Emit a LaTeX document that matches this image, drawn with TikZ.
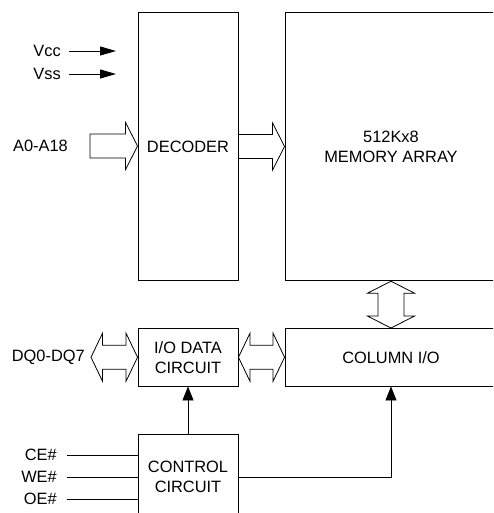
\documentclass[tikz,border=0pt]{standalone}
\usepackage{fontspec}
\setmainfont{Liberation Sans}
\usetikzlibrary{arrows.meta,calc}
\tikzset{
  blk/.style={draw=black, line width=0.9pt, rectangle, inner sep=0pt, align=center,
    font=\fontsize{16.4}{20}\selectfont},
  lbl/.style={inner sep=0pt, font=\fontsize{16.4}{20}\selectfont},
  fat/.style={draw=black, line width=0.8pt, fill=white, line join=miter},
  sig/.style={draw=black, line width=0.9pt},
  sigarrow/.style={sig, -{Triangle[length=14pt,width=11pt]}},
  pwrarrow/.style={sig, -{Triangle[length=16pt,width=9pt]}},
}
\newcommand\fatR[2]{% single head, left to right
  \path let \p1=(#1), \p2=(#2) in [fat]
    (\x1,\y1+12pt) -- (\x2-12pt,\y1+12pt) -- (\x2-12pt,\y1+23.5pt) -- (\x2,\y1)
    -- (\x2-12pt,\y1-23.5pt) -- (\x2-12pt,\y1-12pt) -- (\x1,\y1-12pt) -- cycle;}
\newcommand\fatLR[2]{% double head, horizontal
  \path let \p1=(#1), \p2=(#2) in [fat]
    (\x1,\y1) -- (\x1+11.5pt,\y1+24pt) -- (\x1+11.5pt,\y1+12pt) -- (\x2-11.5pt,\y1+12pt)
    -- (\x2-11.5pt,\y1+24pt) -- (\x2,\y1) -- (\x2-11.5pt,\y1-24pt) -- (\x2-11.5pt,\y1-12pt)
    -- (\x1+11.5pt,\y1-12pt) -- (\x1+11.5pt,\y1-24pt) -- cycle;}
\newcommand\fatUD[2]{% double head, vertical
  \path let \p1=(#1), \p2=(#2) in [fat]
    (\x1,\y1) -- (\x1+23.5pt,\y1-12pt) -- (\x1+13pt,\y1-12pt) -- (\x1+13pt,\y2+12pt)
    -- (\x1+23.5pt,\y2+12pt) -- (\x1,\y2) -- (\x1-23.5pt,\y2+12pt) -- (\x1-13pt,\y2+12pt)
    -- (\x1-13pt,\y1-12pt) -- (\x1-23.5pt,\y1-12pt) -- cycle;}
\begin{document}
\begin{tikzpicture}[x=1pt,y=-1pt]
\useasboundingbox (0,0) rectangle (493,513);
\clip (0,0) rectangle (493,513);

% blocks
\node[blk, minimum width=100pt, minimum height=268.5pt] (dec) at (188,146.5) {DECODER};
\node[blk, minimum width=212pt, minimum height=268.5pt] (mem) at (391,146.5) {512Kx8\\MEMORY ARRAY};
\node[blk, minimum width=100pt, minimum height=57.5pt] (iod) at (188,357.25) {I/O DATA\\CIRCUIT};
\node[blk, minimum width=212pt, minimum height=57.5pt] (col) at (391,357.25) {COLUMN I/O};
\node[blk, minimum width=100pt, minimum height=86pt] (ctl) at (188,477) {CONTROL\\CIRCUIT};

% power inputs
\node[lbl, anchor=east] (vcc) at (61,51) {Vcc};
\node[lbl, anchor=east] (vss) at (61,74) {Vss};
\coordinate (vccend) at (116,51);
\coordinate (vssend) at (116,74);
\draw[pwrarrow] ($(vcc.east)+(8,0)$) -- (vccend);
\draw[pwrarrow] ($(vss.east)+(8,0)$) -- (vssend);

% address bus
\node[lbl, anchor=east] (addr) at (68,146) {A0-A18};
\coordinate (addrstart) at (90,146);
\fatR{addrstart}{dec.west}
\fatR{dec.east}{mem.west}

% memory <-> column I/O
\fatUD{mem.south}{col.north}

% data bus
\node[lbl, anchor=east] (dq) at (85,357) {DQ0-DQ7};
\coordinate (dqtip) at (91,357.25);
\fatLR{dqtip}{iod.west}
\fatLR{iod.east}{col.west}

% control signals
\node[lbl, anchor=east] (ce) at (57,455) {CE\#};
\node[lbl, anchor=east] (we) at (57,477) {WE\#};
\node[lbl, anchor=east] (oe) at (57,499) {OE\#};
\draw[sig] ($(ce.east)+(10,0)$) -- (ce.east -| ctl.west);
\draw[sig] ($(we.east)+(10,0)$) -- (we.east -| ctl.west);
\draw[sig] ($(oe.east)+(10,0)$) -- (oe.east -| ctl.west);

\draw[sigarrow] (ctl.north) -- (iod.south);
\draw[sigarrow] (ctl.east) -| (col.south);
\end{tikzpicture}
\end{document}
